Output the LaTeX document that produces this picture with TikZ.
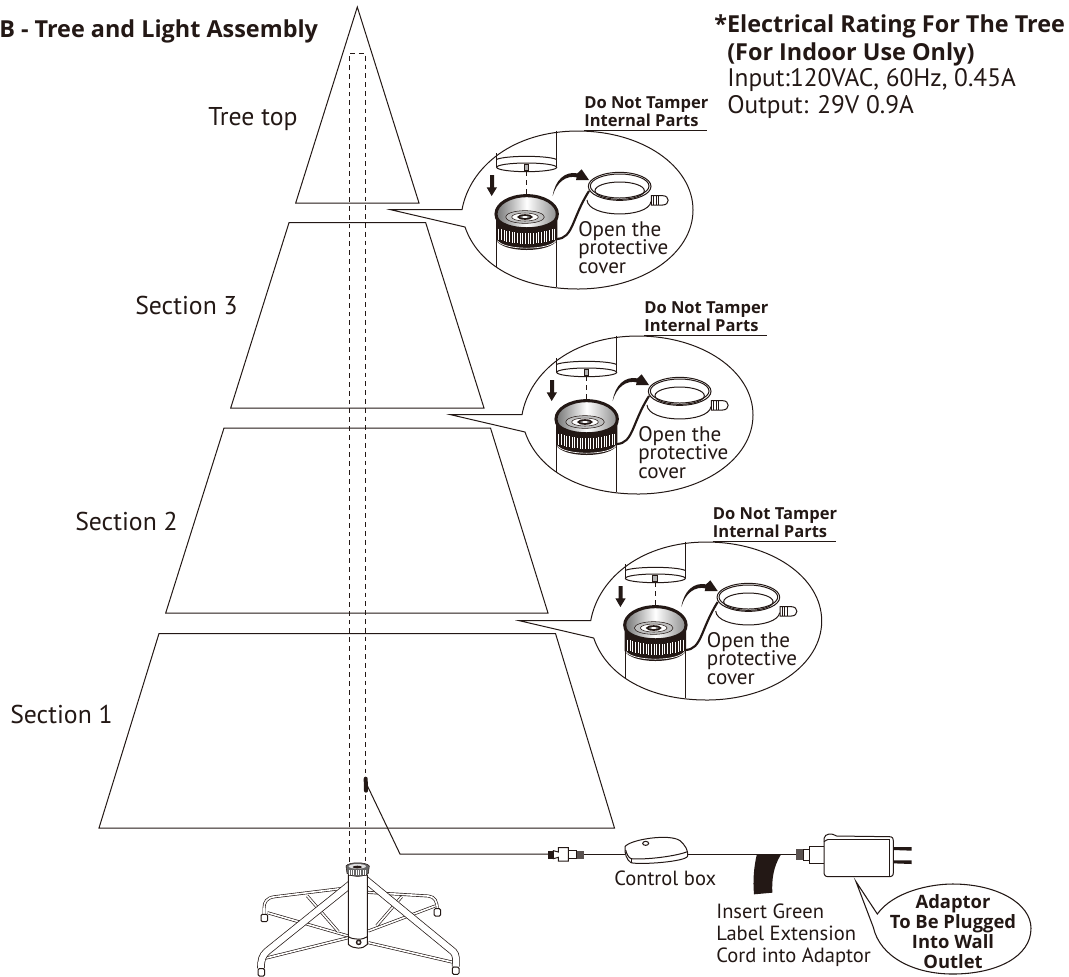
\documentclass[tikz,border=0pt]{standalone}
\usepackage{fontspec}
\setmainfont{PT Sans}
\newfontfamily\hb{Open Sans}
\definecolor{ink}{HTML}{231815}
\tikzset{
  lbl/.style={anchor=base west,inner sep=0,text=ink,font=\fontsize{19}{20}\selectfont},
  seclbl/.style={anchor=base west,inner sep=0,text=ink,font=\fontsize{19.3}{20}\selectfont},
  midlbl/.style={anchor=base west,inner sep=0,text=ink,font=\fontsize{15.4}{17}\selectfont},
  boldlbl/.style={anchor=base west,inner sep=0,text=ink,font=\hb\fontsize{17.55}{19}\bfseries\selectfont},
  tinybold/.style={anchor=base west,inner sep=0,text=ink,font=\hb\fontsize{12.4}{12}\bfseries\selectfont},
  adbold/.style={anchor=base,inner sep=0,text=ink,font=\hb\fontsize{13.8}{15}\bfseries\selectfont},
  open/.style={anchor=base west,inner sep=0,text=ink,font=\fontsize{15.8}{14}\selectfont},
  ln/.style={draw=ink,line width=0.75pt},
  dash line/.style={draw=ink,line width=0.7pt,dash pattern=on 3.6pt off 3pt},
  pipe/.style={draw=ink,line width=0.55pt,double=white,double distance=4.6pt},
  rail/.style={draw=ink,line width=0.5pt,double=white,double distance=1.2pt}
}
\begin{document}
\begin{tikzpicture}[x=0.75pt,y=-0.75pt]
\useasboundingbox (0,0) rectangle (1069,976);
% tree sections
\draw[ln] (357.3,7) -- (419,203) -- (295.7,203) -- cycle;
\draw[ln] (289,222.7) -- (425.7,222.7) -- (484,408) -- (230.7,408) -- cycle;
\draw[ln] (224,428) -- (490.5,428) -- (548,613) -- (165.7,613) -- cycle;
\draw[ln] (159,633.5) -- (555.5,633.5) -- (614.5,828) -- (99,828) -- cycle;
% centre pole
\draw[dash line] (349.5,862) -- (349.5,53) -- (365,53) -- (365,862);
% texts
\node[boldlbl] (title) at (-1,37) {B - Tree and Light Assembly};
\node[boldlbl] (rate1) at (714,32) {*Electrical Rating For The Tree};
\node[boldlbl] (rate2) at (727,60) {(For Indoor Use Only)};
\node[lbl] (rate3) at (727,86) {Input:120VAC, 60Hz, 0.45A};
\node[lbl] (rate4) at (727,113) {Output: 29V 0.9A};
\node[seclbl] (sec0) at (208,125) {Tree top};
\node[seclbl] (sec3) at (135,314) {Section 3};
\node[seclbl] (sec2) at (75,530) {Section 2};
\node[seclbl] (sec1) at (10,723) {Section 1};
% detail bubbles
\foreach \dx/\dy in {0/0, 60/205, 128.7/411}{
\begin{scope}[shift={(\dx,\dy)}]
  \draw[ln,fill=white] (390.7,209.7) -- (462,209.7)
     .. controls (470,166) and (514,131) .. (578,131)
     .. controls (642,131) and (693,166) .. (693,210)
     .. controls (693,254) and (642,289) .. (578,289)
     .. controls (520,289) and (478,265) .. (465,227) -- cycle;
  \node[tinybold] at (584,108) {Do Not Tamper};
  \node[tinybold] at (584,126) {Internal Parts};
  \draw[ln] (584,130.5) -- (707,130.5);
  \node[open] at (578,236) {Open the};
  \node[open] at (578,254) {protective};
  \node[open] at (578,273) {cover};
  \begin{scope}[shift={(440,90)},scale=1/3]
    % tube
    \draw[ln] (349,122) -- (349,230);
    \draw[ln] (170,190) -- (170,232);
    \draw[ln] (170,440) -- (170,532);
    \draw[ln] (349,430) -- (349,592);
    \draw[ln,fill=white] (260,232) ellipse (90 and 13);
    \draw[ln] (170,208) .. controls (200,196) and (320,196) .. (349,208);
    \draw[ln,fill=white!70!black] (252,222) rectangle (266,240);
    \draw[dash line] (259,245) -- (259,375);
    % arrow down
    \fill[ink] (150,255) -- (162,255) -- (162,292) -- (171,292) -- (155,318) -- (140,292) -- (150,292) -- cycle;
    % cap
    \draw[ink,line width=2.3pt,left color=black!55,right color=black!45,middle color=white] (260,372) ellipse (92 and 55);
    \fill[ink] (168,372) -- (168,450) .. controls (190,490) and (330,490) .. (352,450) -- (352,372)
       .. controls (340,425) and (180,425) .. (168,372) -- cycle;
    \foreach \rx in {176,184,...,344}{\draw[white,line width=0.7pt] (\rx,{414+16*sin((\rx-168)/184*180)}) -- (\rx,{447+15*sin((\rx-168)/184*180)});}
    \draw[white,line width=0.5pt] (172,452) .. controls (195,482) and (325,482) .. (348,452);
    \draw[ink,fill=black!25] (255,381) ellipse (58 and 19);
    \draw[ink,fill=white] (255,381) ellipse (40 and 12);
    \draw[ink,line width=1.2pt,fill=black!50] (255,381) ellipse (20 and 6);
    \fill[white] (255,381) ellipse (8 and 3);
    % curved arrow
    \fill[ink] (338,318) .. controls (345,270) and (375,243) .. (412,250) -- (425,238) -- (447,270) -- (408,270) -- (410,262)
       .. controls (380,255) and (350,275) .. (338,318) -- cycle;
    % cover
    \draw[ln] (441,330) .. controls (445,385) and (625,385) .. (633,335);
    \draw[ln,fill=white] (634,317) -- (668,317) .. controls (690,317) and (690,345) .. (668,345) -- (634,345) -- cycle;
    \foreach \rx in {640,648,656}{\draw[ln,line width=0.5pt] (\rx,317) -- (\rx,345);}
    \draw[ln,fill=white] (539,289) ellipse (94 and 42);
    \draw[ln] (539,288) ellipse (88 and 36);
    \draw[ln] (539,302) ellipse (74 and 26);
    % cord
    \draw[ink,line width=1.6pt] (350,447) .. controls (400,445) and (395,385) .. (447,303);
  \end{scope}
\end{scope}
}
% stand
\begin{scope}[shift={(200,760)},scale=1/3]
  \draw[rail] (445,383) -- (225,410) .. controls (200,413) and (192,425) .. (192,445) -- (192,465);
  \draw[rail] (502,397) -- (685,408) .. controls (705,410) and (712,425) .. (712,450);
  \draw[rail] (202,458) -- (445,528);
  \draw[rail] (505,513) -- (705,438);
  \draw[rail] (195,595) -- (445,533);
  \draw[rail] (505,548) -- (760,607);
  \draw[rail] (322,408) -- (415,515);
  \draw[rail] (605,410) -- (530,497);
  \draw[pipe] (452,372) -- (200,575) .. controls (186,588) and (183,600) .. (183,625);
  \draw[pipe] (492,355) -- (760,575) .. controls (770,585) and (768,600) .. (767,620);
  \draw[ln,fill=white] (445,345) -- (445,553) .. controls (460,568) and (490,568) .. (502,553) -- (502,345) -- cycle;
  \draw[ln] (445,530) .. controls (460,540) and (490,540) .. (502,530);
  \draw[ln,fill=ink!60] (476,547) circle (7);
  \fill[white] (476,547) circle (3);
  \draw[ink,fill=black!60] (438,318) -- (441,340) .. controls (455,352) and (490,352) .. (505,340) -- (508,318) .. controls (500,305) and (446,305) .. (438,318) -- cycle;
  \fill[black!12] (472,319) ellipse (26 and 7);
  \fill[ink] (472,321) ellipse (14 and 4);
  \foreach \rx in {447,454,...,500}{\draw[white,line width=0.35pt] (\rx,330) -- (\rx,345);}
  \foreach \fx/\fy in {193/474,712/457,184/637,767/632}{
    \draw[ln,fill=white,rounded corners=1pt] (\fx-10,\fy-11) rectangle (\fx+10,\fy+11);
  }
  % plug on the pole
  \draw[ink,line width=3pt,line cap=round] (497,56) -- (498,92);
\end{scope}
% cable
\coordinate (plugend) at (367,785);
\coordinate (bend) at (400,854);
\coordinate (cabs) at (548,854);
\draw[ln] (plugend) -- (bend) -- (cabs);
\begin{scope}[shift={(530,780)},scale=1/3]
  \fill[ink] (55,212) rectangle (72,236);
  \draw[ln,fill=white] (70,212) -- (85,216) -- (85,203) -- (115,203) -- (115,243) -- (85,243) -- (85,232) -- (70,236) -- cycle;
  \draw[ln,fill=white] (115,210) rectangle (140,236);
  \fill[ink!75] (140,212) rectangle (163,236);
  \draw[ln] (163,224) -- (285,224);
  \draw[ln,fill=white] (285,200) .. controls (300,178) and (420,160) .. (450,182)
     .. controls (465,195) and (475,210) .. (473,228) .. controls (470,245) and (330,255) .. (303,248)
     .. controls (290,240) and (283,220) .. (285,200) -- cycle;
  \draw[ln] (287,210) .. controls (290,222) and (295,232) .. (303,236) .. controls (350,240) and (440,228) .. (472,215);
  \draw[ln] (303,236) -- (303,248);
  \draw[ln,fill=white] (347,190) ellipse (9 and 6);
  \draw[ln] (473,224) -- (800,224);
  \fill[ink] (680,225) -- (752,225) .. controls (730,260) and (725,300) .. (727,338) -- (672,343) .. controls (668,300) and (672,260) .. (680,225) -- cycle;
  \fill[ink!75] (798,206) rectangle (820,240);
  \draw[ln,fill=white] (820,208) rectangle (840,240);
  \draw[ln,fill=white] (838,198) rectangle (882,250);
  \draw[ln,fill=white] (882,175) .. controls (885,160) and (905,158) .. (920,168) -- (1078,170) .. controls (1088,170) and (1090,175) .. (1090,185)
     -- (1090,278) .. controls (1090,288) and (1085,290) .. (1075,290) -- (895,290) .. controls (885,290) and (882,285) .. (882,275) -- cycle;
  \draw[ln] (895,178) -- (1078,178) -- (1078,290);
  \draw[ln] (895,178) .. controls (890,180) and (885,182) .. (882,185);
  \fill[ink] (1090,201) -- (1145,201) -- (1145,212) -- (1090,210) -- cycle;
  \fill[ink] (1090,241) -- (1145,241) -- (1145,252) -- (1090,250) -- cycle;
  \draw[ln,line width=0.8pt,fill=white] (978,305) -- (1042,402)
     .. controls (1090,335) and (1200,312) .. (1268,312)
     .. controls (1400,312) and (1503,370) .. (1503,445)
     .. controls (1503,530) and (1400,582) .. (1268,582)
     .. controls (1150,582) and (1050,530) .. (1030,442) -- cycle;
\end{scope}
\node[midlbl] (ctrl) at (614,885) {Control box};
\node[midlbl] (ins1) at (716,918) {Insert Green};
\node[midlbl] (ins2) at (716,940) {Label Extension};
\node[midlbl] (ins3) at (716,962) {Cord into Adaptor};
\node[adbold] (ad1) at (953,908) {Adaptor};
\node[adbold] (ad2) at (953,928) {To Be Plugged};
\node[adbold] (ad3) at (953,948) {Into Wall};
\node[adbold] (ad4) at (953,968) {Outlet};
\end{tikzpicture}
\end{document}
